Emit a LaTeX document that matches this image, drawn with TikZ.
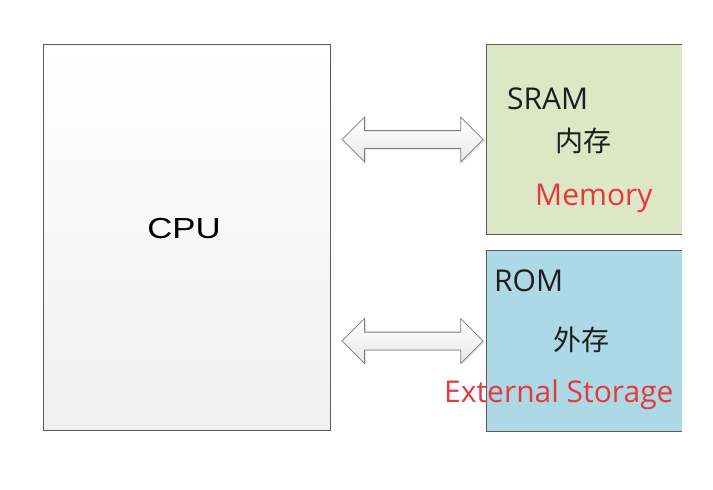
\documentclass[tikz,border=0pt]{standalone}
\usepackage{fontspec}
\setmainfont{Open Sans}
\newfontfamily\cpufont{Liberation Sans}
\newfontfamily\cjkfont{Noto Sans CJK SC}
\usetikzlibrary{positioning,calc,shapes.arrows,shadows}
\definecolor{boxline}{RGB}{90,90,90}
\definecolor{sramfill}{RGB}{221,230,197}
\definecolor{romfill}{RGB}{173,216,230}
\definecolor{labelred}{RGB}{230,57,60}
\definecolor{labeldark}{RGB}{30,30,30}
\definecolor{arrline}{RGB}{125,125,125}

\begin{document}
\begin{tikzpicture}[x=1pt, y=-1pt,
  cpubox/.style={draw=boxline, line width=1pt, top color=white, bottom color=gray!12, minimum width=287pt, minimum height=386pt, inner sep=0pt},
  membox/.style={minimum width=195pt, inner sep=0pt},
  edge/.style={draw=boxline, line width=1pt},
  bigtxt/.style={font=\fontsize{30}{36}\selectfont, text=labeldark, inner sep=0pt, anchor=base west},
  redtxt/.style={bigtxt, text=labelred},
  cjktxt/.style={font=\cjkfont\fontsize{28}{32}\selectfont, text=labeldark, inner sep=0pt, anchor=base west},
  dblarr/.style={double arrow, draw=arrline, line width=0.8pt, top color=white, bottom color=gray!18, minimum height=141pt, minimum width=44pt, double arrow head extend=13.5pt, inner xsep=0pt, inner ysep=8.5pt, drop shadow={shadow xshift=1.2pt, shadow yshift=-1.2pt, opacity=0.25, fill=gray}},
]
  \useasboundingbox (0,0) rectangle (713,490);

  \node[cpubox] (cpu) at (186.5,237) {};
  \node[membox, fill=sramfill, minimum height=189pt] (sram) at (584.5,139.5) {};
  \node[membox, fill=romfill, minimum height=180pt] (rom) at (584.5,341) {};
  \draw[edge] (sram.north east) -- (sram.north west) -- (sram.south west) -- (sram.south east);
  \draw[edge] (rom.north east) -- (rom.north west) -- (rom.south west) -- (rom.south east);

  \node[dblarr, xshift=4pt] (busA) at ($(cpu.east |- sram.west)!0.5!(sram.west)$) {};
  \node[dblarr, xshift=4pt] (busB) at ($(cpu.east |- rom.west)!0.5!(rom.west)$) {};

  \node[font=\cpufont\fontsize{29}{34}\selectfont, text=black, inner sep=0pt, anchor=base] (cpulbl) at (184,238) {\scalebox{1.2}[1]{CPU}};

  \node[bigtxt] (sramlbl) at (507,109) {SRAM};
  \node[cjktxt] (sramcn) at (555,151) {内存};
  \node[redtxt] (sramen) at (535,205) {Memory};

  \node[bigtxt] (romlbl) at (494,291) {ROM};
  \node[cjktxt] (romcn) at (553,350) {外存};
  \node[redtxt] (romen) at (444,402) {External Storage};
\end{tikzpicture}
\end{document}
